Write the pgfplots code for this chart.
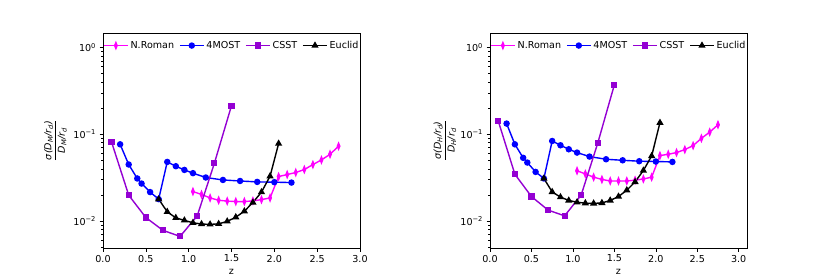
\documentclass[border=0pt]{standalone}
\usepackage{fontspec}
\setmainfont{DejaVu Sans}
\usepackage{pgfplots}
\pgfplotsset{compat=1.18}
\definecolor{cmag}{HTML}{FF00FF}
\definecolor{cblue}{HTML}{0000FF}
\definecolor{cpurp}{HTML}{9400D3}
\tikzset{
  romanst/.style={cmag, line width=1.4bp, mark=diamond*, mark size=3.0bp, mark options={xscale=0.55, fill=cmag, draw=cmag}},
  mostst/.style={cblue, line width=1.4bp, mark=*, mark size=2.5bp, mark options={fill=cblue, draw=cblue}},
  csstst/.style={cpurp, line width=1.4bp, mark=square*, mark size=2.4bp, mark options={fill=cpurp, draw=cpurp}},
  euclidst/.style={black, line width=1.4bp, mark=triangle*, mark size=2.8bp, mark options={fill=black, draw=black}},
}
\newcommand{\ylab}[1]{$\displaystyle\frac{\hbox{\itshape σ(D\textsubscript{#1}/r\textsubscript{d})}}{\hbox{\itshape D\textsubscript{#1}/r\textsubscript{d}}}$}
\begin{document}
\begin{tikzpicture}
\path (0,0) rectangle (830bp,277bp);
% ---------------- left: D_M ----------------
\begin{axis}[at={(103bp,29bp)}, xmax=3.0,
    scale only axis, width=257bp, height=215bp, anchor=south west,
    ymode=log, ymin=0.0049, ymax=1.47, xmin=0,
    axis line style={line width=0.6bp},
    tick style={line width=0.6bp, black},
    major tick length=3.5bp, minor tick length=2bp,
    tick align=outside, tick pos=left,
    font=\fontsize{9.6}{11}\selectfont,
    ytick={0.01,0.1,1},
    yticklabels={10\textsuperscript{−2},10\textsuperscript{−1},10\textsuperscript{0}},
    minor ytick={0.005,0.006,0.007,0.008,0.009,0.02,0.03,0.04,0.05,0.06,0.07,0.08,0.09,0.2,0.3,0.4,0.5,0.6,0.7,0.8,0.9},
    xtick={0,0.5,1,1.5,2,2.5,3},
    xticklabels={0.0,0.5,1.0,1.5,2.0,2.5,3.0},
    xlabel={z},
    x label style={at={(axis description cs:0.5,-0.11)}, anchor=center},
    y label style={at={(axis description cs:-0.185,0.5)}, anchor=center},
    legend style={at={(0,1)}, anchor=north west, draw=none, fill=none,
      legend columns=4, font=\fontsize{9.6}{11}\selectfont, inner xsep=0pt, yshift=-4bp,
      /tikz/every even column/.append style={column sep=3bp}},
    legend cell align=left,
    legend image code/.code={\draw[mark repeat=2,mark phase=2,#1] plot coordinates {(0bp,0bp) (12bp,0bp) (24bp,0bp)};},
  ylabel={\ylab{M}}]
\addplot[romanst] coordinates {
(1.05,0.0219)(1.15,0.0203)(1.25,0.0185)(1.35,0.0174)(1.45,0.0170)(1.55,0.0168)
(1.65,0.0168)(1.75,0.0171)(1.85,0.0177)(1.95,0.0185)(2.05,0.0326)(2.15,0.0344)
(2.25,0.0363)(2.35,0.0393)(2.45,0.0448)(2.55,0.0507)(2.65,0.0589)(2.75,0.0730)};
\addlegendentry{N.Roman}
\addplot[mostst] coordinates {
(0.2,0.0767)(0.3,0.0449)(0.4,0.0310)(0.45,0.0271)(0.55,0.0216)(0.65,0.0179)
(0.75,0.0481)(0.85,0.0429)(0.95,0.0389)(1.05,0.0357)(1.2,0.0318)(1.4,0.0298)
(1.6,0.0290)(1.8,0.0283)(2.0,0.0281)(2.2,0.0278)};
\addlegendentry{4MOST}
\addplot[csstst] coordinates {
(0.1,0.0815)(0.3,0.0199)(0.5,0.0110)(0.7,0.00782)(0.9,0.00667)(1.1,0.0115)
(1.3,0.0464)(1.5,0.214)};
\addlegendentry{CSST}
\addplot[euclidst] coordinates {
(0.65,0.0179)(0.75,0.0128)(0.85,0.0109)(0.95,0.0102)(1.05,0.00957)(1.15,0.00925)
(1.25,0.00917)(1.35,0.0093)(1.45,0.00993)(1.55,0.0111)(1.65,0.0130)(1.75,0.0164)
(1.85,0.0216)(1.95,0.0329)(2.05,0.0782)};
\addlegendentry{Euclid}
\end{axis}
% ---------------- right: D_H ----------------
\begin{axis}[at={(490bp,29bp)}, xmax=3.1,
    scale only axis, width=257bp, height=215bp, anchor=south west,
    ymode=log, ymin=0.0049, ymax=1.47, xmin=0,
    axis line style={line width=0.6bp},
    tick style={line width=0.6bp, black},
    major tick length=3.5bp, minor tick length=2bp,
    tick align=outside, tick pos=left,
    font=\fontsize{9.6}{11}\selectfont,
    ytick={0.01,0.1,1},
    yticklabels={10\textsuperscript{−2},10\textsuperscript{−1},10\textsuperscript{0}},
    minor ytick={0.005,0.006,0.007,0.008,0.009,0.02,0.03,0.04,0.05,0.06,0.07,0.08,0.09,0.2,0.3,0.4,0.5,0.6,0.7,0.8,0.9},
    xtick={0,0.5,1,1.5,2,2.5,3},
    xticklabels={0.0,0.5,1.0,1.5,2.0,2.5,3.0},
    xlabel={z},
    x label style={at={(axis description cs:0.5,-0.11)}, anchor=center},
    y label style={at={(axis description cs:-0.175,0.5)}, anchor=center},
    legend style={at={(0,1)}, anchor=north west, draw=none, fill=none,
      legend columns=4, font=\fontsize{9.6}{11}\selectfont, inner xsep=0pt, yshift=-4bp,
      /tikz/every even column/.append style={column sep=3bp}},
    legend cell align=left,
    legend image code/.code={\draw[mark repeat=2,mark phase=2,#1] plot coordinates {(0bp,0bp) (12bp,0bp) (24bp,0bp)};},
  ylabel={\ylab{H}}]
\addplot[romanst] coordinates {
(1.05,0.0380)(1.15,0.0350)(1.25,0.0321)(1.35,0.0302)(1.45,0.0290)(1.55,0.0290)
(1.65,0.0290)(1.75,0.0296)(1.85,0.0306)(1.95,0.0321)(2.05,0.0569)(2.15,0.0589)
(2.25,0.0616)(2.35,0.0667)(2.45,0.0741)(2.55,0.0899)(2.65,0.106)(2.75,0.129)};
\addlegendentry{N.Roman}
\addplot[mostst] coordinates {
(0.2,0.133)(0.3,0.0767)(0.4,0.0536)(0.45,0.0473)(0.55,0.0369)(0.65,0.0310)
(0.75,0.0838)(0.85,0.0748)(0.95,0.0673)(1.05,0.0616)(1.2,0.0554)(1.4,0.0516)
(1.6,0.0502)(1.8,0.0490)(2.0,0.0486)(2.2,0.0481)};
\addlegendentry{4MOST}
\addplot[csstst] coordinates {
(0.1,0.142)(0.3,0.0347)(0.5,0.0192)(0.7,0.0134)(0.9,0.0115)(1.1,0.0200)
(1.3,0.0794)(1.5,0.372)};
\addlegendentry{CSST}
\addplot[euclidst] coordinates {
(0.65,0.0310)(0.75,0.0217)(0.85,0.0189)(0.95,0.0173)(1.05,0.0165)(1.15,0.0161)
(1.25,0.0160)(1.35,0.0162)(1.45,0.0173)(1.55,0.0192)(1.65,0.0227)(1.75,0.0283)
(1.85,0.0383)(1.95,0.0563)(2.05,0.136)};
\addlegendentry{Euclid}
\end{axis}
\end{tikzpicture}
\end{document}
